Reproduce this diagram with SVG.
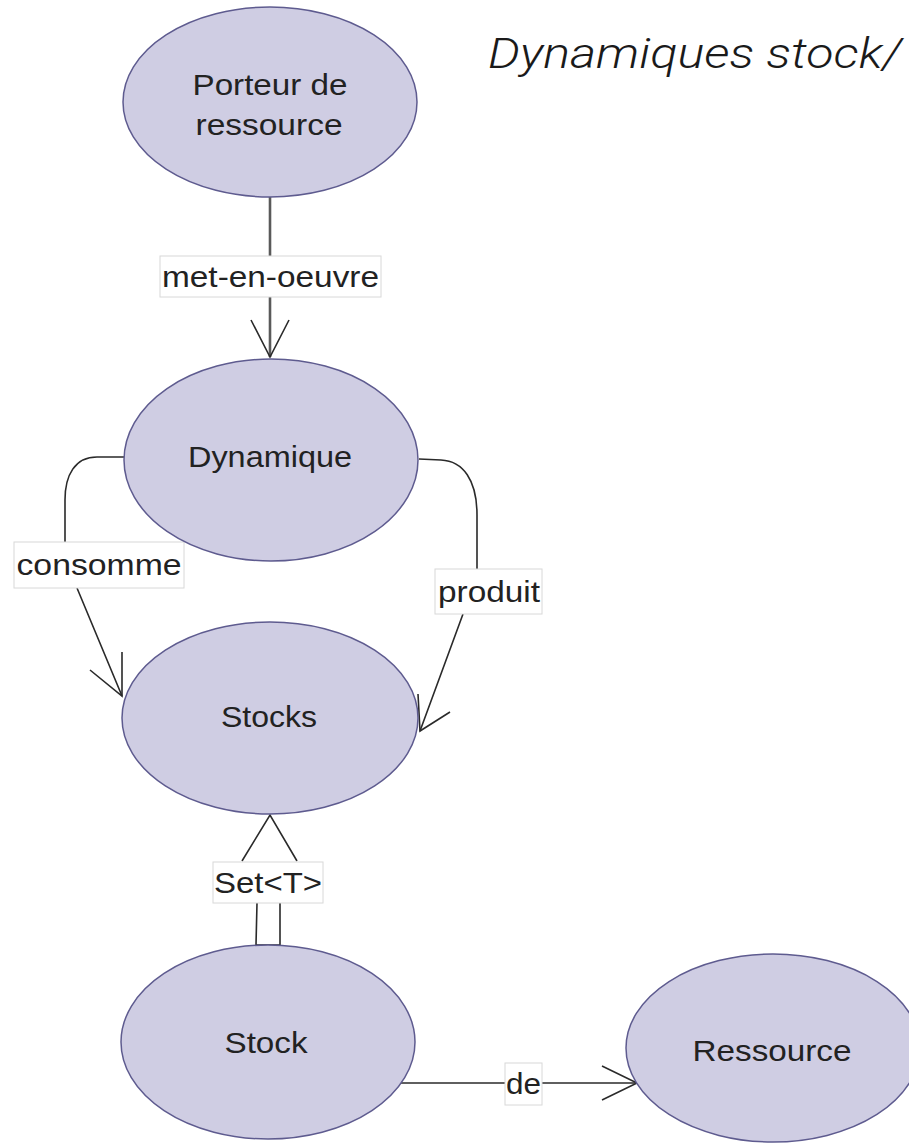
<svg xmlns="http://www.w3.org/2000/svg" width="909" height="1146" viewBox="0 0 909 1146">
  <style>
    .node ellipse { fill: #cfcde3; stroke: #5e5b8f; stroke-width: 1.5; }
    .node text { font-family: "Liberation Sans", Arial, sans-serif; font-size: 30px; fill: #222; text-anchor: middle; }
    .edge { fill: none; stroke: #2a2a2a; stroke-width: 1.6; }
    .head { fill: none; stroke: #2a2a2a; stroke-width: 1.6; stroke-linejoin: miter; }
    .lbl rect { fill: #fff; stroke: #d8d8d8; stroke-width: 1; }
    .lbl text { font-family: "Liberation Sans", Arial, sans-serif; font-size: 30px; fill: #222; text-anchor: middle; }
    .title { font-family: Roboto, "Liberation Sans", sans-serif; font-weight: 300; font-style: italic; font-size: 42px; fill: #1a1a1a; }
  </style>

  <rect width="909" height="1146" fill="#ffffff"/>

  <text class="title" x="488" y="68" textLength="414" lengthAdjust="spacingAndGlyphs">Dynamiques stock/</text>

  <!-- connectors -->
  <g id="connectors">
    <!-- met-en-oeuvre -->
    <g id="e-met">
      <line x1="270" y1="197" x2="270" y2="357" stroke="#5a5a5a" stroke-width="2.6"/>
      <polyline class="head" points="251,320 270,357 289,320"/>
      <g class="lbl">
        <rect x="160" y="256" width="221" height="41"/>
        <text x="270.5" y="287" textLength="217" lengthAdjust="spacingAndGlyphs">met-en-oeuvre</text>
      </g>
    </g>
    <!-- consomme -->
    <g id="e-consomme">
      <path class="edge" d="M124,457 L97,457 C75,457 65,475 65,500 L65,543 M77,588 L122,696"/>
      <polyline class="head" points="90,670 122,696 122,652"/>
      <g class="lbl">
        <rect x="14" y="542" width="170" height="46"/>
        <text x="99" y="575" textLength="165" lengthAdjust="spacingAndGlyphs">consomme</text>
      </g>
    </g>
    <!-- produit -->
    <g id="e-produit">
      <path class="edge" d="M419,459 L441,460 C463,461 477,480 477,515 L477,569 M463,614 L420,731"/>
      <polyline class="head" points="418,694 420,731 450,712"/>
      <g class="lbl">
        <rect x="435" y="569" width="107" height="45"/>
        <text x="489" y="602" textLength="102" lengthAdjust="spacingAndGlyphs">produit</text>
      </g>
    </g>
    <!-- Set<T> -->
    <g id="e-set">
      <polyline class="head" points="242,861 270,815 297,861"/>
      <path class="edge" d="M257,903 L256,945 L280,945 L280,903"/>
      <g class="lbl">
        <rect x="213" y="862" width="110" height="41"/>
        <text x="268" y="893" textLength="108" lengthAdjust="spacingAndGlyphs">Set&lt;T&gt;</text>
      </g>
    </g>
    <!-- de -->
    <g id="e-de">
      <line class="edge" x1="398" y1="1083" x2="636" y2="1083"/>
      <polyline class="head" points="602,1066 637,1083 602,1100"/>
      <g class="lbl">
        <rect x="505" y="1063" width="37" height="42"/>
        <text x="523.5" y="1094" textLength="35" lengthAdjust="spacingAndGlyphs">de</text>
      </g>
    </g>
  </g>

  <!-- nodes -->
  <g id="n-porteur" class="node">
    <ellipse cx="270" cy="102" rx="147" ry="95"/>
    <text x="270" y="95" textLength="155" lengthAdjust="spacingAndGlyphs">Porteur de</text>
    <text x="269" y="135" textLength="147" lengthAdjust="spacingAndGlyphs">ressource</text>
  </g>
  <g id="n-dynamique" class="node">
    <ellipse cx="271" cy="460" rx="147" ry="101"/>
    <text x="270" y="467" textLength="164" lengthAdjust="spacingAndGlyphs">Dynamique</text>
  </g>
  <g id="n-stocks" class="node">
    <ellipse cx="270" cy="718" rx="148" ry="96"/>
    <text x="269" y="727" textLength="96" lengthAdjust="spacingAndGlyphs">Stocks</text>
  </g>
  <g id="n-stock" class="node">
    <ellipse cx="268" cy="1042" rx="147" ry="97"/>
    <text x="266" y="1053" textLength="83" lengthAdjust="spacingAndGlyphs">Stock</text>
  </g>
  <g id="n-ressource" class="node">
    <ellipse cx="773" cy="1048" rx="147" ry="94"/>
    <text x="772" y="1061" textLength="159" lengthAdjust="spacingAndGlyphs">Ressource</text>
  </g>
</svg>
